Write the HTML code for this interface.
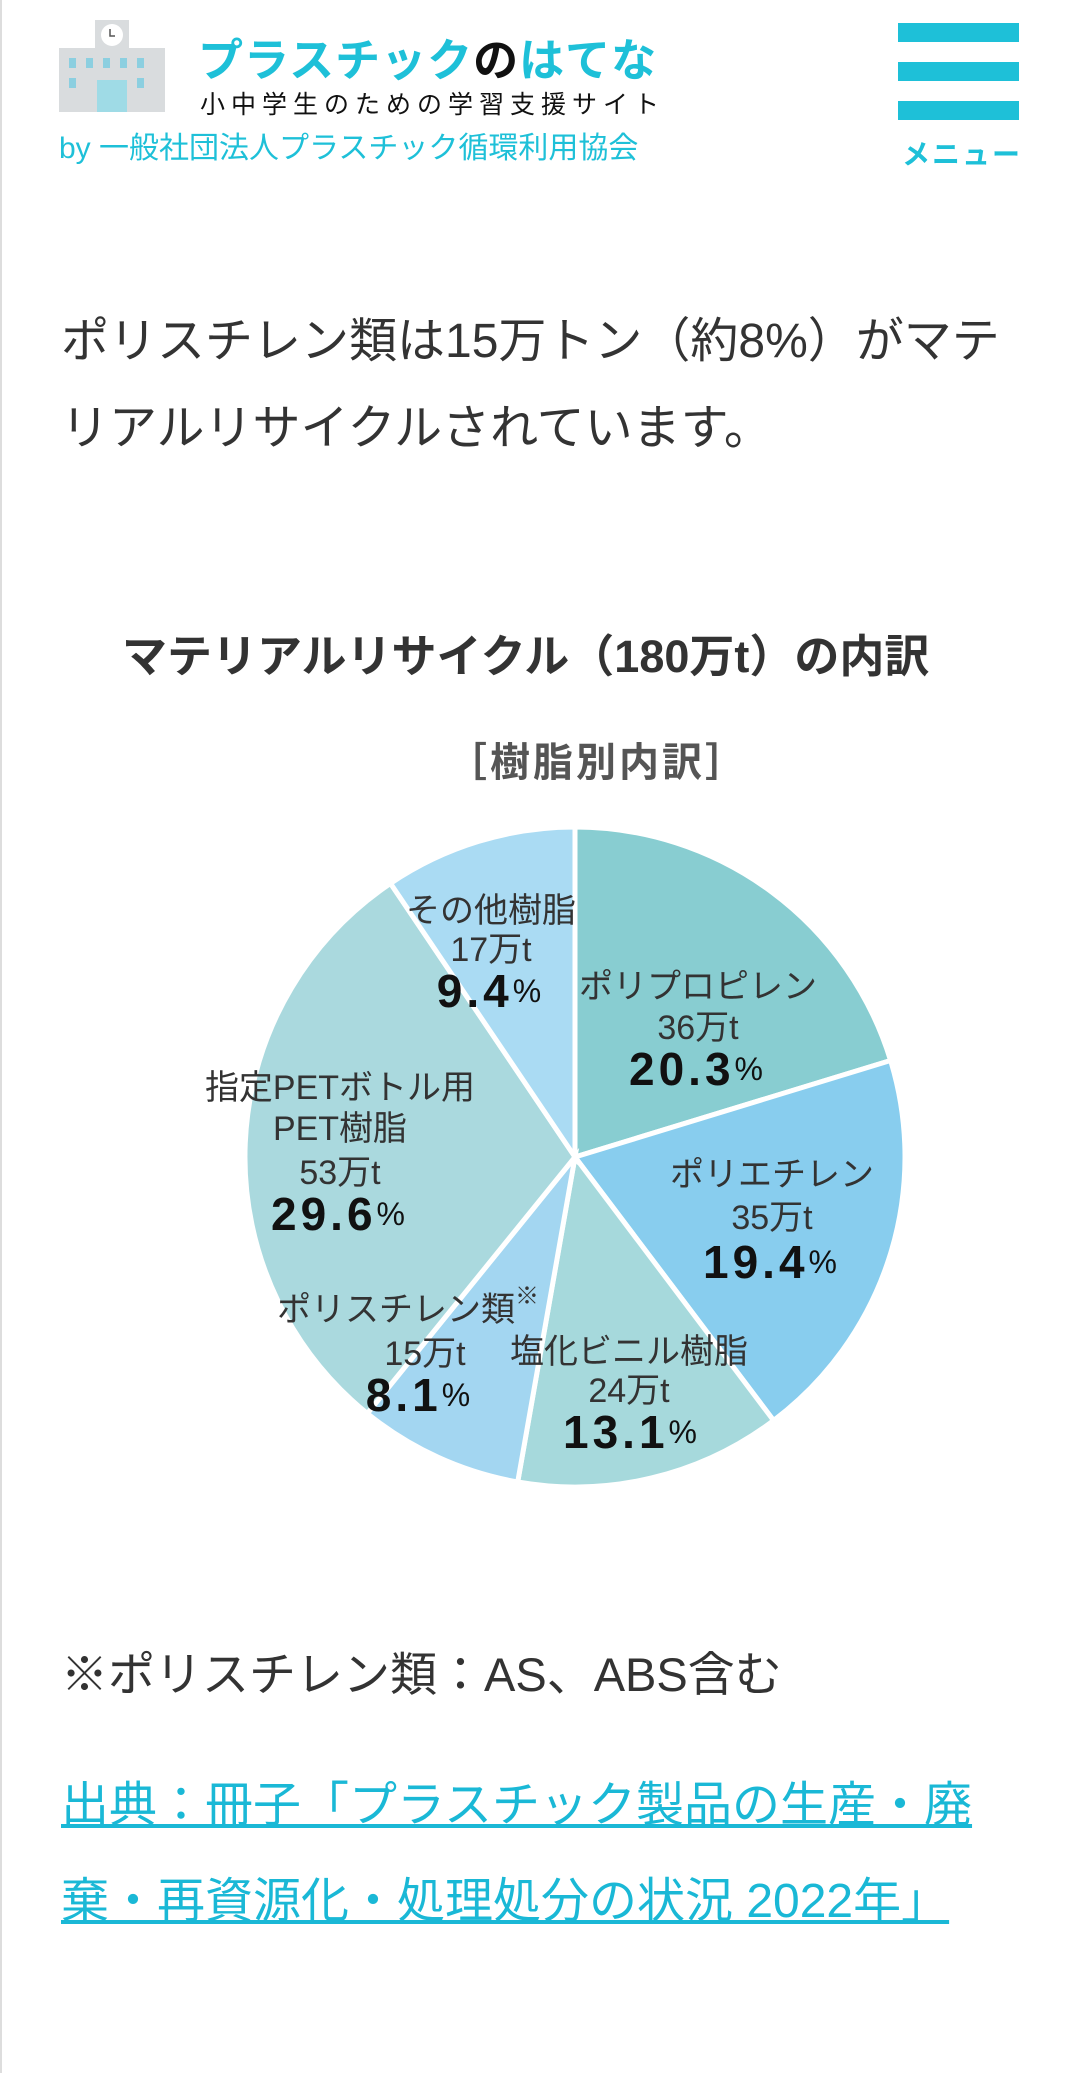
<!DOCTYPE html>
<html><head><meta charset="utf-8">
<style>
html,body{margin:0;padding:0;background:#fff;}
body{width:1080px;height:2073px;position:relative;overflow:hidden;font-family:"Liberation Sans","Noto Sans CJK JP",sans-serif;}
.a{position:absolute;white-space:nowrap;}
.bar{position:absolute;left:898px;width:121px;height:19px;background:#1ec0d8;}
</style></head><body>
<div class="a" style="left:0;top:0;width:2px;height:2073px;background:#ddd"></div>
<svg class="a" style="left:59px;top:20px" width="106" height="92" viewBox="0 0 106 92">
<rect x="0" y="28" width="106" height="64" fill="#d9dcde"/>
<rect x="36" y="0" width="34" height="30" fill="#d9dcde"/>
<circle cx="53" cy="15" r="11" fill="#fff"/>
<path d="M51 9v7h5" stroke="#555" stroke-width="1.5" fill="none"/>
<g fill="#8ccfe0"><rect x="10" y="38" width="7" height="10"/><rect x="27" y="38" width="7" height="10"/><rect x="44" y="38" width="7" height="10"/><rect x="61" y="38" width="7" height="10"/><rect x="78" y="38" width="7" height="10"/><rect x="10" y="58" width="7" height="10"/><rect x="78" y="58" width="7" height="10"/><rect x="38" y="60" width="30" height="32" fill="#9fdbe6"/></g>
</svg>
<div class="a" style="left:198px;top:24px;font-size:45px;font-weight:bold;color:#1ec0d8;letter-spacing:1px">プラスチック<span style="color:#111">の</span>はてな</div>
<div class="a" style="left:200px;top:85px;font-size:25px;color:#111;letter-spacing:6px">小中学生のための学習支援サイト</div>
<div class="a" style="left:59px;top:123px;font-size:30px;color:#1ec0d8">by 一般社団法人プラスチック循環利用協会</div>
<div class="bar" style="top:23px"></div><div class="bar" style="top:62px"></div><div class="bar" style="top:101px"></div>
<div class="a" style="left:902px;top:133px;font-size:28px;font-weight:bold;color:#1ec0d8;letter-spacing:2px">メニュー</div>

<div class="a" style="left:61px;top:298px;font-size:48px;line-height:87px;color:#333">ポリスチレン類は15万トン（約8%）がマテ<br>リアルリサイクルされています。</div>

<div class="a" style="left:122px;top:620px;font-size:45px;font-weight:bold;color:#333">マテリアルリサイクル（180万t）の内訳</div>
<div class="a" style="left:447px;top:730px;font-size:40px;font-weight:bold;color:#555;letter-spacing:3px">［樹脂別内訳］</div>

<svg class="a" style="left:0;top:0" width="1080" height="1560" viewBox="0 0 1080 1560">
<g stroke="#fff" stroke-width="5">
<path d="M575,1157 L575.0,827.0 A330,330 0 0 1 890.6,1060.5 Z" fill="#88cdd1"/>
<path d="M575,1157 L890.6,1060.5 A330,330 0 0 1 773.6,1420.5 Z" fill="#88cdee"/>
<path d="M575,1157 L773.6,1420.5 A330,330 0 0 1 517.7,1482.0 Z" fill="#a6d9dc"/>
<path d="M575,1157 L517.7,1482.0 A330,330 0 0 1 367.3,1413.5 Z" fill="#a3d6f1"/>
<path d="M575,1157 L367.3,1413.5 A330,330 0 0 1 390.5,883.4 Z" fill="#aad9de"/>
<path d="M575,1157 L390.5,883.4 A330,330 0 0 1 575.0,827.0 Z" fill="#aadbf3"/>
</g>
<g font-family="Liberation Sans,Noto Sans CJK JP,sans-serif" text-anchor="middle" dominant-baseline="central" fill="#333" font-size="34">
<text x="491" y="911">その他樹脂</text><text x="491" y="950">17万t</text>
<text x="698" y="987">ポリプロピレン</text><text x="698" y="1028">36万t</text>
<text x="340" y="1088">指定PETボトル用</text><text x="340" y="1129">PET樹脂</text><text x="340" y="1173">53万t</text>
<text x="772" y="1175">ポリエチレン</text><text x="772" y="1218">35万t</text>
<text x="408" y="1310">ポリスチレン類<tspan font-size="24" dy="-14">※</tspan></text><text x="425" y="1354">15万t</text>
<text x="629" y="1352">塩化ビニル樹脂</text><text x="629" y="1391">24万t</text>
<g fill="#111" font-weight="bold" font-size="46" letter-spacing="4">
<text x="491" y="991">9.4<tspan font-size="32" font-weight="normal">%</tspan></text>
<text x="698" y="1069">20.3<tspan font-size="32" font-weight="normal">%</tspan></text>
<text x="340" y="1214">29.6<tspan font-size="32" font-weight="normal">%</tspan></text>
<text x="772" y="1262">19.4<tspan font-size="32" font-weight="normal">%</tspan></text>
<text x="420" y="1395">8.1<tspan font-size="32" font-weight="normal">%</tspan></text>
<text x="632" y="1432">13.1<tspan font-size="32" font-weight="normal">%</tspan></text>
</g></g>
</svg>

<div class="a" style="left:61px;top:1636px;font-size:47px;color:#333">※ポリスチレン類：AS、ABS含む</div>
<div class="a" style="left:61px;top:1758px;font-size:48px;line-height:96px;color:#1ab8d6;text-decoration:underline">出典：冊子「プラスチック製品の生産・廃<br>棄・再資源化・処理処分の状況 2022年」</div>
</body></html>
